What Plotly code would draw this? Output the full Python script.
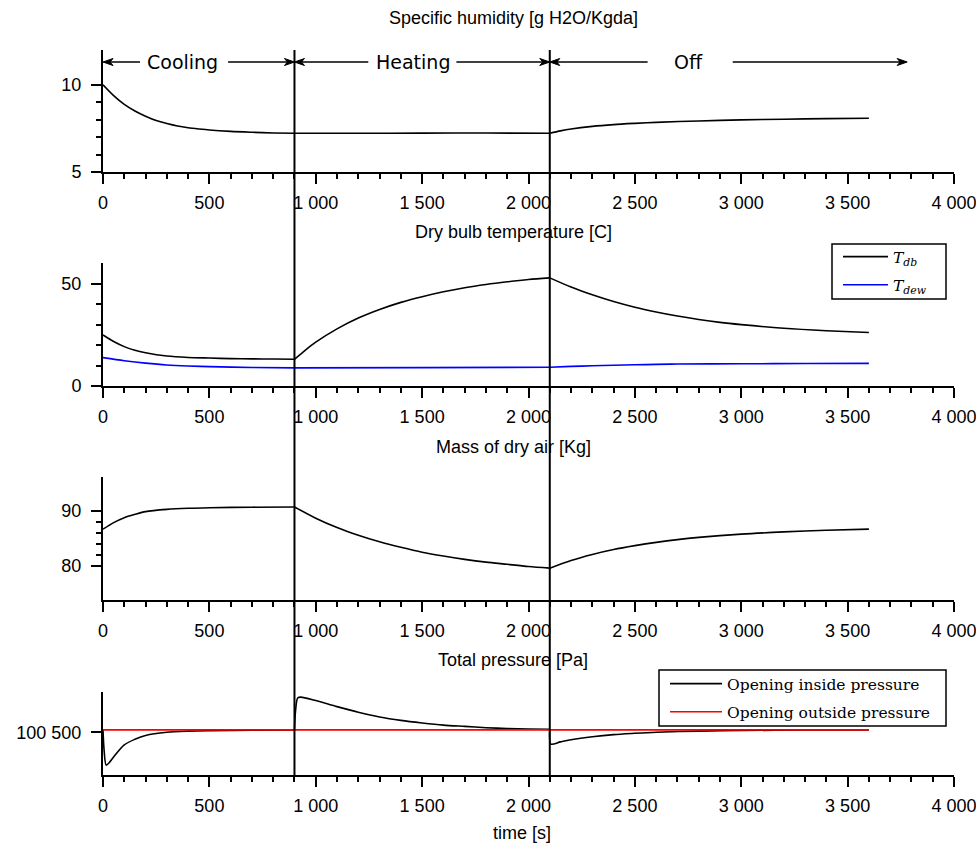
import plotly.graph_objects as go

# ---------------- data ----------------
# Specific humidity [g H2O/Kgda]
hum_t = [0, 50, 100, 150, 200, 250, 300, 350, 400, 450, 500, 600, 700, 800, 900,
         1200, 1500, 1800, 2100,
         2150, 2200, 2300, 2400, 2500, 2600, 2800, 3000, 3200, 3400, 3600]
hum_v = [10.0, 9.38, 8.88, 8.50, 8.20, 7.95, 7.78, 7.64, 7.54, 7.47, 7.41, 7.33, 7.28, 7.24, 7.22,
         7.22, 7.23, 7.24, 7.22,
         7.36, 7.47, 7.62, 7.72, 7.79, 7.85, 7.93, 7.99, 8.03, 8.06, 8.08]

# Dry bulb temperature [C]
tdb_t = [0, 50, 100, 150, 200, 300, 400, 500, 600, 700, 800, 900,
         950, 1000, 1100, 1200, 1300, 1400, 1500, 1600, 1700, 1800, 1900, 2000, 2100,
         2200, 2300, 2400, 2500, 2600, 2700, 2800, 2900, 3000, 3200, 3400, 3600]
tdb_v = [25.0, 21.8, 19.3, 17.5, 16.3, 14.7, 14.0, 13.7, 13.4, 13.3, 13.2, 13.1,
         17.5, 21.5, 28.0, 33.3, 37.5, 41.0, 43.8, 46.2, 48.2, 49.8, 51.1, 52.2, 53.0,
         48.5, 44.7, 41.4, 38.6, 36.3, 34.3, 32.6, 31.2, 30.1, 28.3, 27.1, 26.2]
tdew_t = [0, 100, 200, 300, 400, 500, 700, 900, 1500, 2100,
          2200, 2300, 2400, 2500, 2600, 2700, 3000, 3300, 3600]
tdew_v = [13.9, 12.4, 11.2, 10.3, 9.8, 9.5, 9.1, 8.9, 9.0, 9.2,
          9.6, 9.9, 10.2, 10.4, 10.6, 10.8, 10.9, 11.0, 11.1]

# Mass of dry air [Kg]
mass_t = [0, 50, 100, 150, 200, 300, 400, 500, 700, 900,
          1000, 1100, 1200, 1300, 1400, 1500, 1600, 1700, 1800, 1900, 2000, 2100,
          2200, 2300, 2400, 2500, 2600, 2700, 2800, 3000, 3200, 3400, 3600]
mass_v = [86.7, 87.9, 88.8, 89.4, 89.9, 90.3, 90.5, 90.6, 90.7, 90.75,
          88.7, 87.0, 85.6, 84.4, 83.4, 82.5, 81.8, 81.2, 80.7, 80.3, 79.9, 79.6,
          81.0, 82.1, 83.0, 83.7, 84.3, 84.8, 85.2, 85.8, 86.2, 86.5, 86.7]

# Total pressure [Pa]
p_in_t = [0, 5, 15, 30, 50, 100, 150, 200, 300, 400, 500, 700, 900,
          905, 915, 930, 1000, 1100, 1200, 1300, 1400, 1500, 1600, 1700, 1800, 1900, 2000, 2100,
          2105, 2150, 2200, 2300, 2400, 2500, 2600, 2800, 3000, 3300, 3600]
p_in_v = [100500.6, 100496.0, 100492.4, 100493.0, 100494.3, 100497.1, 100498.4, 100499.3,
          100500.05, 100500.3, 100500.4, 100500.5, 100500.55,
          100505.0, 100508.0, 100508.2, 100507.4, 100506.0, 100504.7, 100503.6, 100502.8,
          100502.2, 100501.7, 100501.4, 100501.1, 100500.9, 100500.8, 100500.7,
          100497.3, 100497.8, 100498.3, 100499.0, 100499.5, 100499.8, 100500.05,
          100500.3, 100500.45, 100500.55, 100500.6]
p_out_t = [0, 3600]
p_out_v = [100500.6, 100500.6]

# phases
phase_names = ["Cooling", "Heating", "Off"]
phase_start = [0, 900, 2100]
phase_end = [900, 2100, 3780]
phase_text_x = [374, 1456, 2751]
phase_gap_left = [174, 1247, 2560]
phase_gap_right = [588, 1661, 2960]
switch_times = [900, 2100]
seg_bounds = [(0, 900), (900, 2100), (2100, 3600)]

x_ticks = [0, 500, 1000, 1500, 2000, 2500, 3000, 3500, 4000]
x_ticktext = ["0", "500", "1 000", "1 500", "2 000", "2 500", "3 000", "3 500", "4 000"]

titles = ["Specific humidity [g H2O/Kgda]", "Dry bulb temperature [C]",
          "Mass of dry air [Kg]", "Total pressure [Pa]"]

# ---------------- figure ----------------
W, H = 976, 848
X0PX, X1PX = 103, 954
XMAX = 4000
PX_PER_UNIT = (X1PX - X0PX) / XMAX


def py(p):
    return 1 - p / H


xdom = [X0PX / W, X1PX / W]
ydoms = [(py(172), py(50)), (py(386), py(263)), (py(600), py(477)), (py(775), py(692))]
title_y = [18, 232, 447, 660]

TICKFONT = dict(family="Liberation Sans, Arial, sans-serif", size=18, color="black")

fig = go.Figure()
line_w = 1.6


def add_series(t, v, color, ax, name=None, legend=None, group=None, split=True):
    bounds = seg_bounds if split else [(min(t), max(t))]
    first = True
    for (a, b) in bounds:
        st = [ti for ti in t if a <= ti <= b]
        sv = [vi for ti, vi in zip(t, v) if a <= ti <= b]
        if len(st) < 2:
            continue
        fig.add_trace(go.Scatter(
            x=st, y=sv, mode="lines",
            line=dict(color=color, width=line_w, shape="spline", smoothing=0.8),
            name=name, legend=legend, legendgroup=group,
            showlegend=(name is not None and first),
            xaxis="x" + ax, yaxis="y" + ax))
        first = False


add_series(hum_t, hum_v, "black", "")
add_series(tdb_t, tdb_v, "black", "2", "<i>T</i><sub><i>db</i></sub>", "legend", "tdb")
add_series(tdew_t, tdew_v, "blue", "2", "<i>T</i><sub><i>dew</i></sub>", "legend", "tdew")
add_series(mass_t, mass_v, "black", "3")
add_series(p_in_t, p_in_v, "black", "4", "Opening inside pressure", "legend2", "pin")
add_series(p_out_t, p_out_v, "red", "4", "Opening outside pressure", "legend2", "pout", split=False)

y_cfg = [
    dict(range=[5, 12], tickvals=[5, 10], ticktext=["5", "10"], minor_vals=[6, 7, 8, 9]),
    dict(range=[0, 60.3], tickvals=[0, 50], ticktext=["0", "50"], minor_vals=[10, 20, 30, 40]),
    dict(range=[73.8, 96.2], tickvals=[80, 90], ticktext=["80", "90"], minor_vals=[82, 84, 86, 88]),
    dict(range=[100490.1, 100509.4], tickvals=[100500], ticktext=["100 500"], minor_vals=[]),
]

layout = dict(width=W, height=H, margin=dict(l=0, r=0, t=0, b=0, autoexpand=False),
              plot_bgcolor="white", paper_bgcolor="white", showlegend=True)
for i in range(4):
    sfx = "" if i == 0 else str(i + 1)
    layout["xaxis" + sfx] = dict(
        domain=xdom, anchor="y" + sfx, range=[0, XMAX], showgrid=False, zeroline=False,
        showline=True, linecolor="black", linewidth=2, ticks="outside", ticklen=10, tickwidth=2,
        tickcolor="black", tickvals=x_ticks, ticktext=x_ticktext, tickfont=TICKFONT,
        ticklabelstandoff=3, ticklabeloverflow="allow",
        minor=dict(tickmode="array", tickvals=[v for v in range(0, XMAX + 1, 100) if v % 500],
                   ticks="outside", ticklen=5, tickwidth=2, tickcolor="black", showgrid=False),
    )
    c = y_cfg[i]
    ymin = dict(ticks="outside", ticklen=5, tickwidth=2, tickcolor="black", showgrid=False)
    if c["minor_vals"]:
        ymin.update(tickmode="array", tickvals=c["minor_vals"])
    else:
        ymin.update(ticks="")
    layout["yaxis" + sfx] = dict(
        domain=list(ydoms[i]), anchor="x" + sfx, range=c["range"], showgrid=False, zeroline=False,
        showline=True, linecolor="black", linewidth=2, ticks="outside", ticklen=10, tickwidth=2,
        tickcolor="black", tickvals=c["tickvals"], ticktext=c["ticktext"], tickfont=TICKFONT,
        ticklabelstandoff=6, ticklabeloverflow="allow", minor=ymin,
    )

LEGFONT = dict(family="DejaVu Serif, Liberation Serif, serif", size=15.5, color="black")
# legend boxes (drawn as rectangles), legends themselves without border
leg_box = [(832, 244, 946, 299), (659, 670, 946, 726)]
layout["legend"] = dict(x=(832 + 6) / W, y=py(240), xanchor="left", yanchor="top",
                        borderwidth=0, bgcolor="rgba(0,0,0,0)", font=LEGFONT,
                        itemwidth=45, tracegroupgap=5)
layout["legend2"] = dict(x=(659 + 6) / W, y=py(667), xanchor="left", yanchor="top",
                         borderwidth=0, bgcolor="rgba(0,0,0,0)", font=LEGFONT,
                         itemwidth=52, tracegroupgap=5)

annotations = []
for i, ttl in enumerate(titles):
    annotations.append(dict(text=ttl, x=513 / W, y=py(title_y[i]), xref="paper", yref="paper",
                            xanchor="center", yanchor="middle", showarrow=False,
                            font=TICKFONT))
annotations.append(dict(text="time [s]", x=522 / W, y=py(833), xref="paper", yref="paper",
                        xanchor="center", yanchor="middle", showarrow=False, font=TICKFONT))

arrow_y = py(62)
PHFONT = dict(family="DejaVu Sans, sans-serif", size=19, color="black")

shapes = []
head_len = 10 / PX_PER_UNIT    # arrowhead length (px -> data units)
head_notch = 7 / PX_PER_UNIT
head_half = 3.5 / H            # half height in paper units


def arrow(tail, head):
    d = 1 if head > tail else -1
    back = head - d * head_len
    notch = head - d * head_notch
    shapes.append(dict(type="line", xref="x", yref="paper", x0=tail, x1=notch,
                       y0=arrow_y, y1=arrow_y, line=dict(color="black", width=1.5)))
    shapes.append(dict(type="path", xref="x", yref="paper",
                       path=(f"M {head},{arrow_y} L {back},{arrow_y + head_half} "
                             f"L {notch},{arrow_y} L {back},{arrow_y - head_half} Z"),
                       fillcolor="black", line=dict(color="black", width=1)))


for i, name in enumerate(phase_names):
    annotations.append(dict(text=name, x=phase_text_x[i], y=arrow_y, xref="x", yref="paper",
                            xanchor="center", yanchor="middle", showarrow=False, font=PHFONT))
    arrow(phase_gap_left[i], phase_start[i])
    arrow(phase_gap_right[i], phase_end[i])
layout["annotations"] = annotations

for ts in switch_times:
    shapes.append(dict(type="line", xref="x", yref="paper", x0=ts, x1=ts,
                       y0=py(776), y1=py(50), line=dict(color="black", width=2)))
for (x0, y0, x1, y1) in leg_box:
    shapes.append(dict(type="rect", xref="paper", yref="paper", x0=x0 / W, x1=x1 / W,
                       y0=py(y1), y1=py(y0), line=dict(color="black", width=1.5),
                       fillcolor="white", layer="above"))
layout["shapes"] = shapes

fig.update_layout(**layout)
fig.write_html("out.html", config={"displayModeBar": False},
               post_script="document.body.style.margin='0';document.body.style.overflow='hidden';")
